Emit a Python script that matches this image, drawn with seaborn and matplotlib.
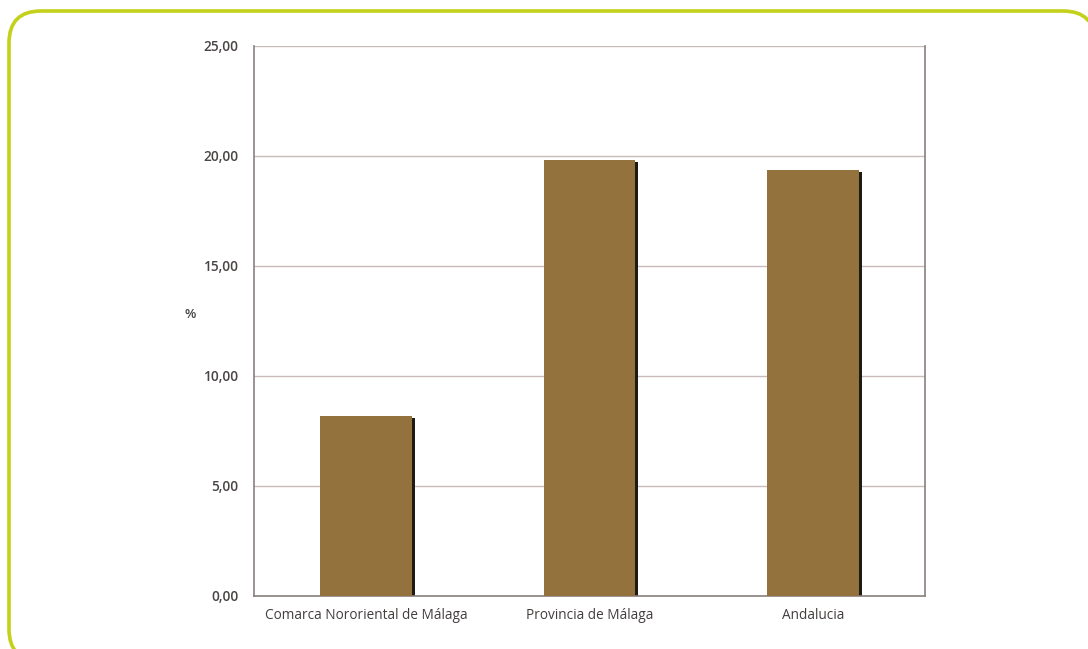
import matplotlib
matplotlib.use("Agg")
import matplotlib.pyplot as plt
import matplotlib.transforms as mtransforms
from matplotlib.patches import BoxStyle, Polygon
import pandas as pd
import seaborn as sns

categories = ["Comarca Nororiental de Málaga", "Provincia de Málaga", "Andalucia"]
values = [8.18, 19.82, 19.37]
y_ticks = [0, 5, 10, 15, 20, 25]
y_labels = ["0,00", "5,00", "10,00", "15,00", "20,00", "25,00"]

df = pd.DataFrame({"zona": categories, "pct": values})

sns.set_style("white")
plt.rcParams["font.family"] = ["Open Sans", "DejaVu Sans"]

fig = plt.figure(figsize=(10.88, 6.49), dpi=100)
ax = fig.add_axes([0.2335, 0.0817, 0.6167, 0.8475])

# shadow bars first, then the real bars on top
sns.barplot(data=df, x="zona", y="pct", color="#1e1a14", width=0.41,
            saturation=1, linewidth=0, ax=ax, zorder=2)
n = len(ax.patches)
shift = mtransforms.ScaledTranslation(3 / 100, -2 / 100, fig.dpi_scale_trans)
for p in ax.patches[:n]:
    p.set_transform(ax.transData + shift)
sns.barplot(data=df, x="zona", y="pct", color="#94723e", width=0.41,
            saturation=1, linewidth=0, ax=ax, zorder=3)

ax.set_ylim(0, 25)
ax.set_xlim(-0.5, 2.5)
ax.set_yticks(y_ticks)
ax.set_yticklabels(y_labels)
ax.yaxis.grid(True, color="#c9bbbb", linewidth=1)
ax.set_axisbelow(True)

ax.set_xticks([0, 1, 2])
ax.set_xticklabels(categories)
ax.set_xticks([0.5, 1.5, 2.5], minor=True)
ax.tick_params(axis="x", which="major", length=0, pad=9,
               labelsize=9.8, labelcolor="#433d3d")
ax.tick_params(axis="x", which="minor", length=4, color="#8a7f7f", direction="out")
ax.tick_params(axis="y", length=5, color="#8a7f7f", direction="out",
               labelsize=9.8, labelcolor="#4a4444", pad=6)
for lab in ax.get_yticklabels():
    lab.set_fontweight("semibold")
for lab in ax.get_xticklabels():
    lab.set_fontweight("medium")

for side in ["left", "bottom", "right"]:
    ax.spines[side].set_color("#8a7f7f")
    ax.spines[side].set_linewidth(1.2)
ax.spines["top"].set_visible(False)

ax.set_xlabel("")
ax.set_ylabel("%", rotation=0, fontsize=9.5, color="#4a4444", fontweight="semibold")
ax.yaxis.set_label_coords(-0.095, 0.50)

# rounded frame around the chart, drawn in a pixel-unit overlay axes
# (curves flattened to a polygon so clipping at the figure edge stays clean)
ov = fig.add_axes([0, 0, 1, 1], zorder=-1)
ov.set_xlim(0, 1088)
ov.set_ylim(0, 649)
ov.axis("off")
box = BoxStyle("Round", pad=0, rounding_size=32)(9, -12, 1086, 650, 1)
outline = box.to_polygons(closed_only=False)[0]
ov.add_patch(Polygon(outline, closed=True, fill=False, edgecolor="#c3d11a",
                     linewidth=2.6, clip_on=False))

fig.savefig("out.png", dpi=100)
